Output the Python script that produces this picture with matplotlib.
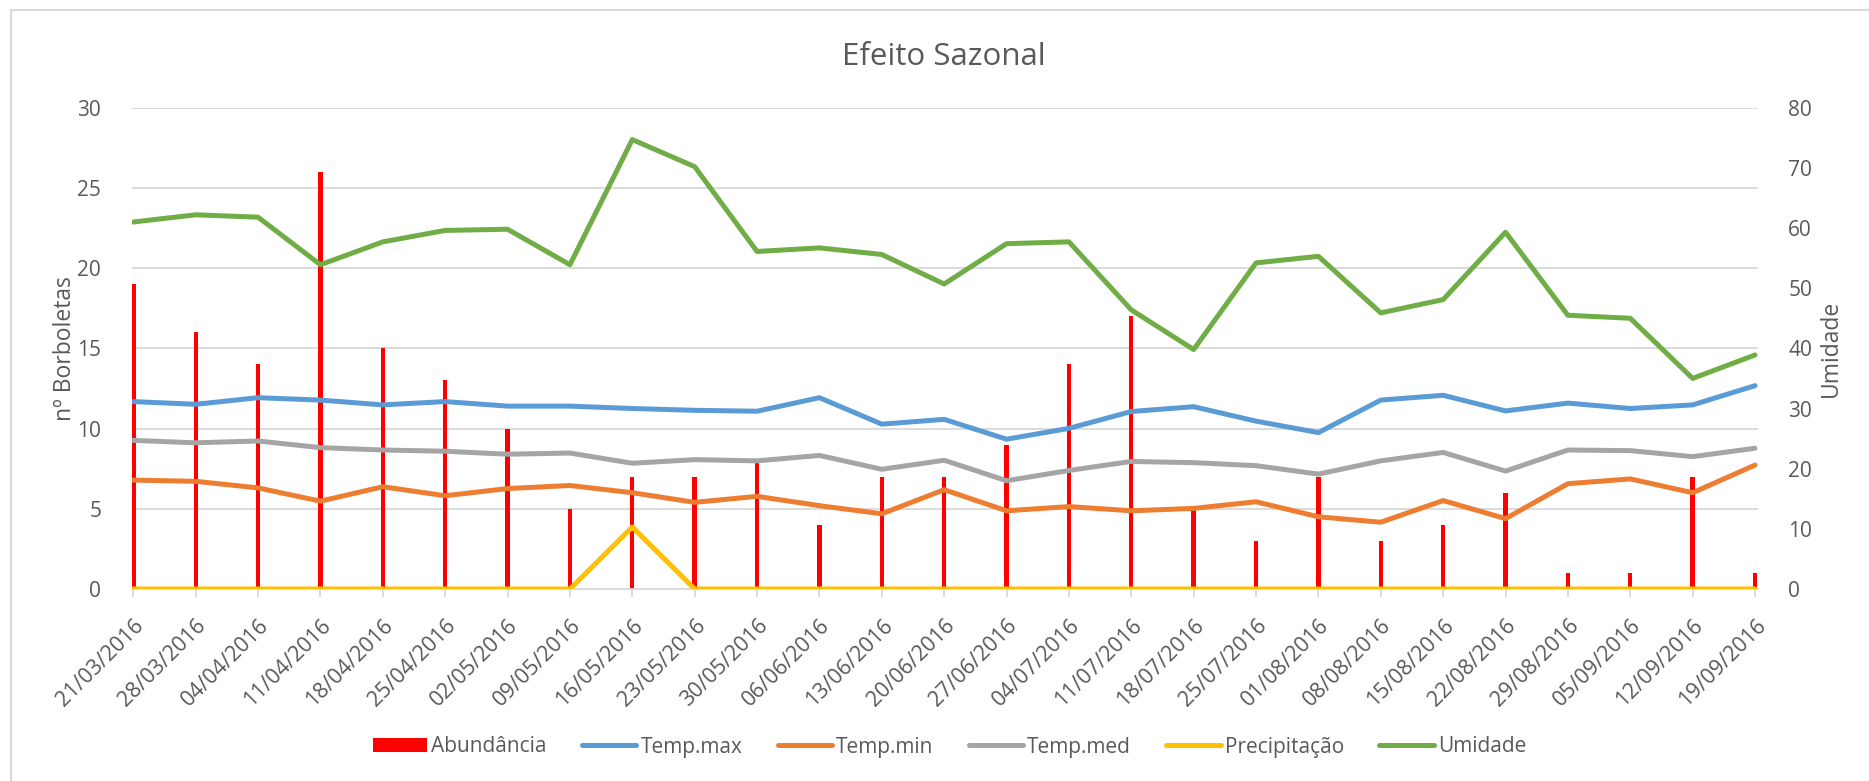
import matplotlib
matplotlib.use("Agg")
import matplotlib.pyplot as plt
import matplotlib.transforms as mtransforms
from matplotlib.lines import Line2D
from matplotlib.patches import Patch

plt.rcParams['font.family'] = ['Open Sans', 'DejaVu Sans']

dates = ['21/03/2016', '28/03/2016', '04/04/2016', '11/04/2016', '18/04/2016',
         '25/04/2016', '02/05/2016', '09/05/2016', '16/05/2016', '23/05/2016',
         '30/05/2016', '06/06/2016', '13/06/2016', '20/06/2016', '27/06/2016',
         '04/07/2016', '11/07/2016', '18/07/2016', '25/07/2016', '01/08/2016',
         '08/08/2016', '15/08/2016', '22/08/2016', '29/08/2016', '05/09/2016',
         '12/09/2016', '19/09/2016']

abundancia = [19, 16, 14, 26, 15, 13, 10, 5, 7, 7, 8, 4, 7, 7, 9, 14, 17, 5, 3, 7,
              3, 4, 6, 1, 1, 7, 1]

temp_max = [31.15, 30.7, 31.8, 31.4, 30.6, 31.15, 30.4, 30.4, 30.0, 29.7, 29.55,
            31.8, 27.4, 28.2, 24.9, 26.7, 29.5, 30.3, 27.9, 26.0, 31.4, 32.2,
            29.6, 30.9, 30.0, 30.6, 33.8]

temp_min = [18.1, 17.9, 16.8, 14.6, 17.0, 15.5, 16.7, 17.2, 16.0, 14.4, 15.4,
            13.85, 12.5, 16.5, 13.0, 13.7, 13.0, 13.4, 14.5, 12.0, 11.1, 14.7,
            11.7, 17.5, 18.3, 16.0, 20.6]

temp_med = [24.7, 24.3, 24.6, 23.5, 23.1, 22.9, 22.4, 22.6, 20.9, 21.5, 21.3,
            22.2, 19.9, 21.4, 18.0, 19.7, 21.2, 21.0, 20.5, 19.1, 21.3, 22.7,
            19.6, 23.1, 23.0, 22.0, 23.4]

precipitacao = [0, 0, 0, 0, 0, 0, 0, 0, 10.3, 0, 0, 0, 0, 0, 0, 0, 0, 0, 0, 0,
                0, 0, 0, 0, 0, 0, 0]

umidade = [61.0, 62.2, 61.8, 53.9, 57.7, 59.6, 59.8, 53.9, 74.7, 70.2, 56.1,
           56.7, 55.6, 50.7, 57.4, 57.7, 46.4, 39.8, 54.2, 55.3, 45.9, 48.1,
           59.3, 45.5, 45.0, 35.0, 38.9]

left_ticks = [0, 5, 10, 15, 20, 25, 30]
right_ticks = [0, 10, 20, 30, 40, 50, 60, 70, 80]

TXT = '#595959'
GRID = '#D9D9D9'
W, H = 1869, 781
AX_L, AX_R = 131.7, 1757.7
AX_W = AX_R - AX_L

fig = plt.figure(figsize=(W / 100, H / 100), dpi=100)
ax = fig.add_axes([AX_L / W, 1 - 589 / H, AX_W / W, (589 - 107.7) / H])
ax2 = ax.twinx()

x = list(range(len(dates)))
ax.bar(x, abundancia, width=0.07, color='#FF0000', zorder=2)
ax.set_ylim(0, 30)
ax.set_yticks(left_ticks)
ax.set_xlim(-0.026, len(dates) - 1 + 0.043)
ax.set_xticks(x)
ax.set_xticklabels(dates, rotation=45, ha='right', va='top', rotation_mode='anchor')
offset = mtransforms.ScaledTranslation(4 / 100, 0, fig.dpi_scale_trans)
for lab in ax.get_xticklabels():
    lab.set_transform(lab.get_transform() + offset)
ax.grid(axis='y', color=GRID, linewidth=1.3, zorder=0)
ax.set_axisbelow(True)

lw = 3.6
series = [
    (temp_max, '#5B9BD5', 'Temp.max'),
    (temp_min, '#ED7D31', 'Temp.min'),
    (temp_med, '#A5A5A5', 'Temp.med'),
    (precipitacao, '#FFC000', 'Precipitação'),
    (umidade, '#70AD47', 'Umidade'),
]
for vals, col, name in series:
    ax2.plot(x, vals, color=col, linewidth=lw, solid_capstyle='round',
             solid_joinstyle='round')
ax2.set_ylim(0, 80)
ax2.set_yticks(right_ticks)

for a in (ax, ax2):
    for s in a.spines.values():
        s.set_visible(False)
    a.tick_params(axis='y', length=0, colors=TXT, labelsize=15)
ax.tick_params(axis='y', pad=22)
ax2.tick_params(axis='y', pad=22)
ax.spines['bottom'].set_visible(True)
ax.spines['bottom'].set_color(GRID)
ax.spines['bottom'].set_linewidth(1.3)
ax.tick_params(axis='x', length=6, width=1.3, color=GRID, labelcolor=TXT,
               labelsize=15.5, pad=13)

ax.set_ylabel('nº Borboletas', fontsize=16.5, color=TXT)
ax.yaxis.set_label_coords((77 - AX_L) / AX_W, 0.5)
ax2.set_ylabel('Umidade', fontsize=16.5, color=TXT)
ax2.yaxis.set_label_coords((1819 - AX_L) / AX_W, 0.5)

fig.text(944 / W, 1 - 65 / H, 'Efeito Sazonal', ha='center', va='baseline',
         fontsize=22.5, color=TXT)

handles = [Patch(facecolor='#FF0000', edgecolor='none', label='Abundância')]
for vals, col, name in series:
    handles.append(Line2D([0], [0], color=col, linewidth=lw,
                          solid_capstyle='round', label=name))
leg = fig.legend(handles=handles, loc='center', bbox_to_anchor=(949.5 / W, 1 - 747 / H),
                 ncol=6, frameon=False, fontsize=15, handlelength=2.6,
                 handleheight=0.67, handletextpad=0.2, columnspacing=1.7,
                 labelcolor=TXT)

# chart area border
fig.add_artist(plt.Line2D([11 / W, 11 / W], [0, 1 - 9.5 / H],
                          transform=fig.transFigure, color=GRID, linewidth=1.5))
fig.add_artist(plt.Line2D([11 / W, 1], [1 - 9.5 / H, 1 - 9.5 / H],
                          transform=fig.transFigure, color=GRID, linewidth=1.5))

fig.savefig('out.png', dpi=100, facecolor='white')
